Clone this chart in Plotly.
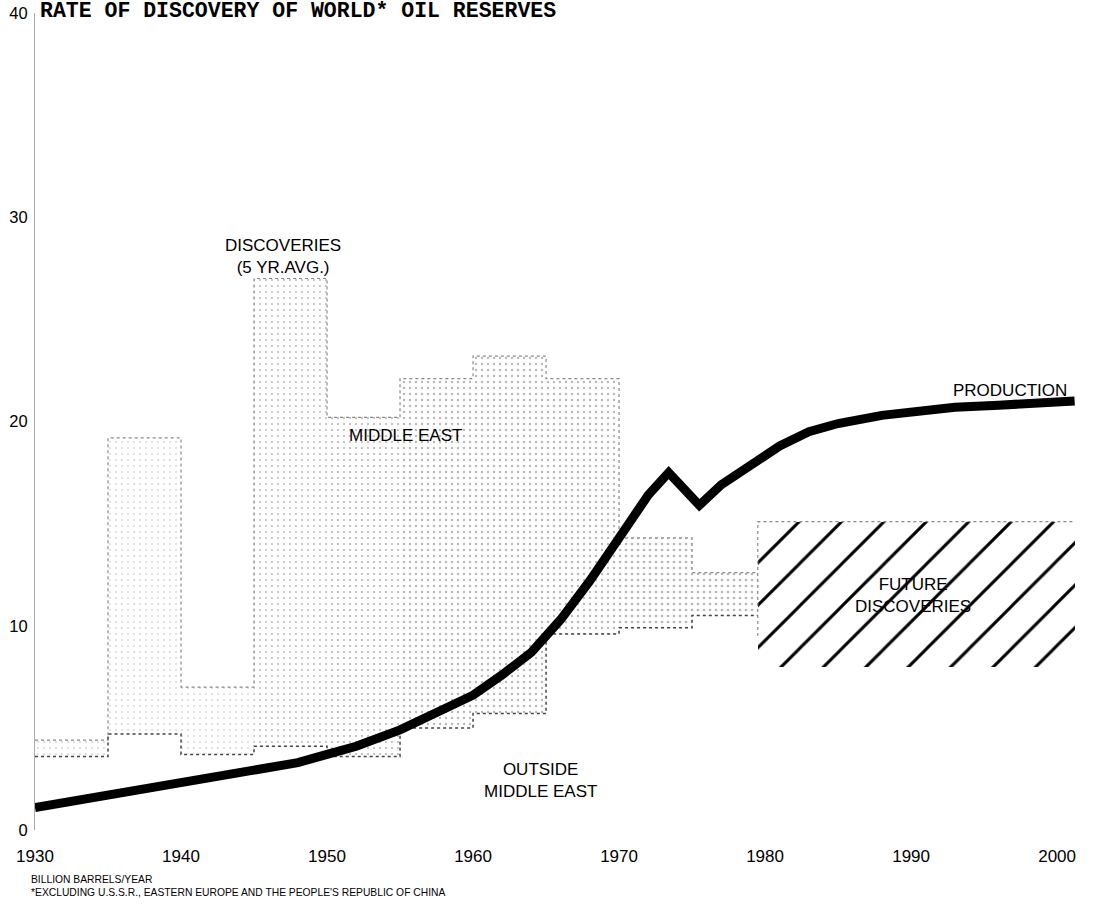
import plotly.graph_objects as go

# ---- data ----
period_start = [1930, 1935, 1940, 1945, 1950, 1955, 1960, 1965, 1970, 1975]
period_end   = [1935, 1940, 1945, 1950, 1955, 1960, 1965, 1970, 1975, 1979.5]
outside_me   = [3.6, 4.7, 3.7, 4.1, 3.6, 5.0, 5.7, 9.6, 9.9, 10.5]
total_disc   = [4.4, 19.2, 7.0, 27.0, 20.2, 22.1, 23.2, 22.1, 14.3, 12.6]
stipple      = [0.06, 0.05, 0.05, 0.08, 0.11, 0.12, 0.12, 0.12, 0.15, 0.15]

future_start, future_end = 1979.5, 2001.2
future_low, future_high = 8.0, 15.1

prod_year  = [1930, 1935, 1940, 1945, 1948, 1950, 1952, 1955, 1958, 1960, 1962,
              1964, 1966, 1968, 1970, 1972, 1973.4, 1975.5, 1977, 1979, 1981,
              1983, 1985, 1988, 1990, 1993, 1996, 2001.2]
production = [1.1, 1.7, 2.3, 2.9, 3.3, 3.7, 4.1, 4.9, 5.9, 6.6, 7.6,
              8.7, 10.3, 12.2, 14.3, 16.4, 17.5, 15.9, 16.9, 17.9, 18.8,
              19.5, 19.9, 20.3, 20.5, 20.7, 20.8, 21.0]

x_ticks = [1930, 1940, 1950, 1960, 1970, 1980, 1990, 2000]
y_ticks = [0, 10, 20, 30, 40]

LABEL_FONT = "Liberation Sans, Arial, Helvetica, sans-serif"

widths  = [e - s for s, e in zip(period_start, period_end)]
centers = [(s + e) / 2 for s, e in zip(period_start, period_end)]
me_part = [t - o for t, o in zip(total_disc, outside_me)]

fig = go.Figure()

# outside middle east (white)
fig.add_trace(go.Bar(x=centers, y=outside_me, width=widths, base=0,
                     marker=dict(color="white", line=dict(width=0)),
                     showlegend=False, hoverinfo="skip"))
# middle east (stippled)
fig.add_trace(go.Bar(x=centers, y=me_part, width=widths, base=outside_me,
                     marker=dict(color="white", line=dict(width=0),
                                 pattern=dict(shape=".", fgcolor="#6e6e6e", bgcolor="white",
                                              size=6, solidity=stipple)),
                     showlegend=False, hoverinfo="skip"))
# future discoveries (hatched)
fig.add_trace(go.Bar(x=[(future_start + future_end) / 2], y=[future_high - future_low],
                     width=[future_end - future_start], base=[future_low],
                     marker=dict(color="white", line=dict(width=0),
                                 pattern=dict(shape="/", fgcolor="black", bgcolor="white",
                                              fgopacity=1, size=30, solidity=0.1)),
                     showlegend=False, hoverinfo="skip"))

# dotted outlines
step_x = period_start + [period_end[-1]]
fig.add_trace(go.Scatter(x=step_x, y=total_disc + [total_disc[-1]], mode="lines",
                         line=dict(shape="hv", color="#8a8a8a", width=1.2, dash="dot"),
                         showlegend=False, hoverinfo="skip"))
fig.add_trace(go.Scatter(x=step_x, y=outside_me + [outside_me[-1]], mode="lines",
                         line=dict(shape="hv", color="#444444", width=1.5, dash="dot"),
                         showlegend=False, hoverinfo="skip"))
fig.add_trace(go.Scatter(x=[future_start, future_start, future_end],
                         y=[future_low + 1.5, future_high, future_high], mode="lines",
                         line=dict(color="#8a8a8a", width=1.2, dash="dot"),
                         showlegend=False, hoverinfo="skip"))

# production
fig.add_trace(go.Scatter(x=prod_year, y=production, mode="lines",
                         line=dict(color="black", width=9, shape="linear"),
                         showlegend=False, hoverinfo="skip"))

ann = dict(showarrow=False, font=dict(family=LABEL_FONT, size=17, color="black"))
fig.add_annotation(x=1947.0, y=28.1, text="DISCOVERIES<br>(5 YR.AVG.)", **ann)
fig.add_annotation(x=1955.4, y=19.3, text="MIDDLE EAST", **ann)
fig.add_annotation(x=1964.6, y=2.4, text="OUTSIDE<br>MIDDLE EAST", **ann)
fig.add_annotation(x=1996.8, y=21.5, text="PRODUCTION", **ann)
fig.add_annotation(x=1990.1, y=11.5, text="FUTURE<br>DISCOVERIES", **ann)

fig.add_annotation(xref="paper", yref="paper", x=0, y=0, xanchor="left", yanchor="top",
                   xshift=-6, yshift=-42, align="left", showarrow=False,
                   text="BILLION BARRELS/YEAR<br>*EXCLUDING U.S.S.R., EASTERN EUROPE AND THE PEOPLE'S REPUBLIC OF CHINA",
                   font=dict(family=LABEL_FONT, size=10.3, color="black"))

fig.add_annotation(xref="paper", yref="paper", x=0, y=1, xanchor="left", yanchor="bottom",
                   xshift=3, yshift=-12, showarrow=False,
                   text="<b>RATE OF DISCOVERY OF WORLD* OIL RESERVES</b>",
                   font=dict(family="Liberation Mono, Courier New, monospace", size=21.5, color="black"))

fig.update_layout(
    width=1095, height=905,
    margin=dict(l=35, r=16, t=13, b=75, autoexpand=False),
    paper_bgcolor="white", plot_bgcolor="white",
    barmode="overlay", bargap=0,
    font=dict(family="Liberation Sans, Arial, sans-serif", size=17, color="black"),
    xaxis=dict(range=[1930, 2001.5], tickvals=x_ticks, ticktext=[str(v) for v in x_ticks],
               showgrid=False, zeroline=False, showline=False, ticks="",
               ticklabelstandoff=14, fixedrange=True, automargin=False),
    yaxis=dict(range=[0, 40], tickvals=y_ticks, showgrid=False, zeroline=False,
               showline=True, linecolor="#aaaaaa", linewidth=1, ticks="",
               tickfont=dict(size=16.5),
               ticklabelstandoff=3, fixedrange=True, automargin=False),
)

fig.write_html("out.html", config={"displayModeBar": False},
               post_script="document.body.style.margin='0';")
